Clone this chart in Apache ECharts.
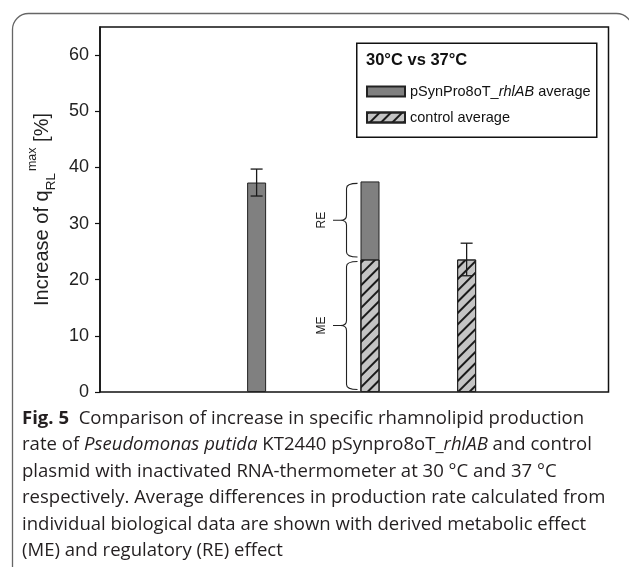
<!DOCTYPE html>
<html>
<head>
<meta charset="utf-8">
<script src="https://cdn.jsdelivr.net/npm/echarts@6/dist/echarts.min.js"></script>
<style>
html,body{margin:0;padding:0;background:#fff;}
#chart{width:629px;height:567px;}
</style>
</head>
<body>
<div id="chart"></div>
<script>
// ---- data ----
const groups = ['pSynPro8oT_rhlAB', 'ME + RE', 'control'];
const pSynMean = [37.3];
const pSynErr = [2.4];
const controlMean = [23.6, 23.6];
const controlErr = [2.9];
const combinedTotal = [37.5];
const tickValues = [0, 10, 20, 30, 40, 50, 60];
const tickLabels = ['0', '10', '20', '30', '40', '50', '60'];
const legendNames = ['pSynPro8oT_rhlAB average', 'control average'];
const legendTitle = '30°C vs 37°C';
const braceLabels = ['ME', 'RE'];
const captionLines = [
  '{b|Fig. 5}  Comparison of increase in specific rhamnolipid production',
  'rate of {i|Pseudomonas putida} KT2440 pSynpro8oT_{i|rhlAB} and control',
  'plasmid with inactivated RNA-thermometer at 30 °C and 37 °C',
  'respectively. Average differences in production rate calculated from',
  'individual biological data are shown with derived metabolic effect',
  '(ME) and regulatory (RE) effect'
];

// layout: group positions on a hidden 0-100 horizontal axis
const groupX = [30.8, 53.1, 72.1];

const ME = controlMean[0];

const chart = echarts.init(document.getElementById('chart'), null, {renderer: 'canvas'});

const FONT = '"Liberation Sans", Arial, sans-serif';
const CAPFONT = '"Open Sans", "Noto Sans", sans-serif';

const hatch = {
  symbol: 'rect', symbolSize: 1, color: '#1a1a1a',
  dashArrayX: [1, 0], dashArrayY: [1.3, 6], rotation: -Math.PI / 4
};

function errorItem(params, api) {
  const x = api.value(0), lo = api.value(1), hi = api.value(2);
  const pLo = api.coord([x, lo]), pHi = api.coord([x, hi]);
  const w = 6;
  const st = {stroke: '#1a1a1a', lineWidth: 1.3};
  return {type: 'group', children: [
    {type: 'line', shape: {x1: pLo[0], y1: pLo[1], x2: pHi[0], y2: pHi[1]}, style: st},
    {type: 'line', shape: {x1: pLo[0] - w, y1: pLo[1], x2: pLo[0] + w, y2: pLo[1]}, style: st},
    {type: 'line', shape: {x1: pHi[0] - w, y1: pHi[1], x2: pHi[0] + w, y2: pHi[1]}, style: st}
  ]};
}

function braceItem(params, api) {
  const x = api.value(0), v0 = api.value(1), v1 = api.value(2);
  const label = braceLabels[params.dataIndex];
  const pB = api.coord([x, v0]), pT = api.coord([x, v1]);
  const c = pB[0];
  const yTop = pT[1] + 2, yBot = pB[1] - 2.5;
  const ym = (yTop + yBot) / 2;
  const xr = c - 12.5, xs = c - 23.5, xt = c - 37;
  const r = 5;
  const st = {stroke: '#222', lineWidth: 1.1, fill: null};
  const path = 'M' + xr + ' ' + yTop +
    ' Q' + xs + ' ' + yTop + ' ' + xs + ' ' + (yTop + r) +
    ' L' + xs + ' ' + (ym - r) +
    ' Q' + xs + ' ' + ym + ' ' + (xs - 6) + ' ' + ym +
    ' L' + xt + ' ' + ym +
    ' M' + (xs - 6) + ' ' + ym +
    ' Q' + xs + ' ' + ym + ' ' + xs + ' ' + (ym + r) +
    ' L' + xs + ' ' + (yBot - r) +
    ' Q' + xs + ' ' + yBot + ' ' + xr + ' ' + yBot;
  return {type: 'group', children: [
    {type: 'path', shape: {pathData: path}, style: st},
    {type: 'text', x: c - 48, y: ym, rotation: Math.PI / 2,
     style: {text: label, font: '12px ' + FONT, fill: '#222',
             align: 'center', verticalAlign: 'middle'}}
  ]};
}

const captionGraphics = captionLines.map((t, i) => ({
  type: 'text', x: 22, y: 419 + i * 26.5, scaleX: 1.06,
  style: {
    text: t, fill: '#231f20', verticalAlign: 'middle',
    font: '17.5px ' + CAPFONT,
    rich: {
      b: {fontWeight: 'bold', fontSize: 17.5, fontFamily: CAPFONT, fill: '#231f20'},
      i: {fontStyle: 'italic', fontSize: 17.5, fontFamily: CAPFONT, fill: '#231f20'}
    }
  }
}));

const option = {
  animation: false,
  backgroundColor: '#fff',
  title: {
    text: legendTitle, left: 361, top: 47,
    textStyle: {fontFamily: FONT, fontWeight: 'bold', fontSize: 16.5, color: '#111'}
  },
  legend: {
    data: legendNames, orient: 'vertical', left: 361, top: 79,
    itemWidth: 38, itemHeight: 10, itemGap: 11, icon: 'rect',
    formatter: function (n) {
      if (n === legendNames[0]) return '{a|pSynPro8oT_}{i|rhlAB}{a| average}';
      return '{a|' + n + '}';
    },
    textStyle: {
      fontFamily: FONT, fontSize: 14.5, color: '#111',
      rich: {
        a: {fontFamily: FONT, fontSize: 14.5, color: '#111'},
        i: {fontFamily: FONT, fontSize: 14.5, color: '#111', fontStyle: 'italic'}
      }
    }
  },
  grid: {
    left: 100, right: 20.5, top: 27, bottom: 175,
    show: true, borderColor: '#111', borderWidth: 1.5, backgroundColor: 'transparent'
  },
  xAxis: {
    type: 'value', min: 0, max: 100, show: false
  },
  yAxis: {
    type: 'value', min: 0, max: 65,
    name: '{a|Increase of q}{sub|RL}{sup|max}{a| [%]}',
    nameLocation: 'middle', nameGap: 37,
    nameTextStyle: {
      rich: {
        a: {fontFamily: FONT, fontSize: 20, color: '#222', lineHeight: 32, verticalAlign: 'middle'},
        sub: {fontFamily: FONT, fontSize: 13.5, color: '#222', verticalAlign: 'bottom', lineHeight: 32},
        sup: {fontFamily: FONT, fontSize: 12.5, color: '#222', verticalAlign: 'top', lineHeight: 32, padding: [0, 0, 0, 2]}
      }
    },
    splitLine: {show: false},
    axisLine: {show: true, lineStyle: {color: '#111', width: 1.5}},
    axisTick: {show: true, inside: false, length: 5, customValues: tickValues, lineStyle: {color: '#111', width: 1.2}},
    axisLabel: {
      customValues: tickValues, margin: 11,
      formatter: function (v) { return tickLabels[tickValues.indexOf(v)]; },
      fontFamily: FONT, fontSize: 18, color: '#222'
    }
  },
  graphic: [
    {type: 'rect', left: 10, top: 11, shape: {width: 620, height: 600, r: 16},
     style: {fill: null, stroke: '#666', lineWidth: 1.3}, z: -10, silent: true},
    {type: 'rect', left: 356, top: 42.5, shape: {width: 240, height: 94},
     style: {fill: '#fff', stroke: '#111', lineWidth: 1.5}, z: 1, silent: true}
  ].concat(captionGraphics),
  series: [
    {
      name: legendNames[0], type: 'bar', barWidth: 19, barGap: '-100%',
      itemStyle: {color: '#808080', borderColor: '#222', borderWidth: 1},
      data: [[groupX[0], pSynMean[0]], [groupX[1], combinedTotal[0]]], z: 2
    },
    {
      name: legendNames[1], type: 'bar', barWidth: 19, barGap: '-100%',
      itemStyle: {color: '#c4c4c4', borderColor: '#222', borderWidth: 1, decal: hatch},
      data: [[groupX[1], controlMean[0]], [groupX[2], controlMean[1]]], z: 3
    },
    {
      type: 'custom', renderItem: errorItem, z: 5,
      data: [
        [groupX[0], pSynMean[0] - pSynErr[0], pSynMean[0] + pSynErr[0]],
        [groupX[2], controlMean[1] - controlErr[0], controlMean[1] + controlErr[0]]
      ]
    },
    {
      type: 'custom', renderItem: braceItem, z: 5,
      data: [
        [groupX[1], 0, ME],
        [groupX[1], ME, combinedTotal[0]]
      ]
    }
  ]
};
chart.setOption(option);
</script>
</body>
</html>
